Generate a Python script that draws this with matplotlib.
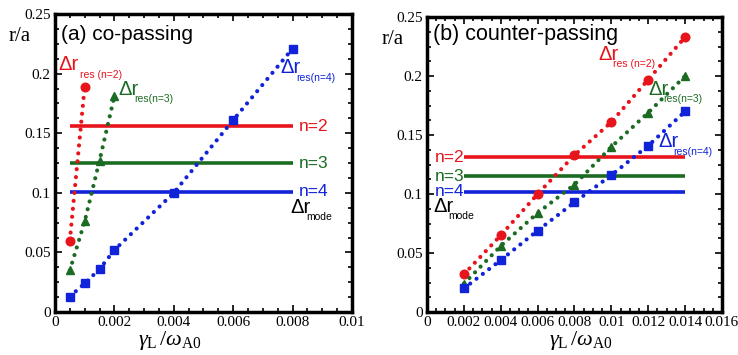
import matplotlib
matplotlib.use("Agg")
import matplotlib.pyplot as plt
from matplotlib.ticker import MultipleLocator

# (a) co-passing
co_x_n2 = [0.0005, 0.001]
co_y_n2 = [0.060, 0.189]
co_x_n3 = [0.0005, 0.001, 0.0015, 0.002]
co_y_n3 = [0.035, 0.076, 0.127, 0.181]
co_x_n4 = [0.0005, 0.001, 0.0015, 0.002, 0.004, 0.006, 0.008]
co_y_n4 = [0.013, 0.024, 0.036, 0.052, 0.100, 0.161, 0.221]
co_mode = [0.156, 0.125, 0.101]          # n=2, n=3, n=4
co_mode_x = [0.0005, 0.008]

# (b) counter-passing
ct_x = [0.002, 0.004, 0.006, 0.008, 0.010, 0.012, 0.014]
ct_y_n2 = [0.032, 0.065, 0.100, 0.133, 0.161, 0.197, 0.233]
ct_y_n3 = [0.024, 0.056, 0.084, 0.108, 0.140, 0.169, 0.200]
ct_y_n4 = [0.020, 0.044, 0.069, 0.093, 0.116, 0.141, 0.170]
ct_mode = [0.131, 0.115, 0.102]
ct_mode_x = [0.002, 0.014]

mode_labels = ["n=2", "n=3", "n=4"]

RED = "#e8141c"
GREEN = "#1c6b23"
BLUE = "#1023d8"
colors = [RED, GREEN, BLUE]

SERIF = "Liberation Serif"
SANS = "Liberation Sans"

plt.rcParams["mathtext.fontset"] = "custom"
plt.rcParams["mathtext.rm"] = SERIF
plt.rcParams["mathtext.it"] = SERIF + ":italic"

fig = plt.figure(figsize=(7.38, 3.55), dpi=100)
ax1 = fig.add_axes([0.0745, 0.121, 0.4024, 0.8395])
ax2 = fig.add_axes([0.5786, 0.121, 0.3997, 0.831])


def fmt(v, p):
    return "0" if v == 0 else f"{v:g}"


def style_axes(ax, xmax, xlab_x):
    ax.set_xlim(0, xmax)
    ax.set_ylim(0, 0.25)
    ax.xaxis.set_major_locator(MultipleLocator(0.002))
    ax.xaxis.set_minor_locator(MultipleLocator(0.0005))
    ax.yaxis.set_major_locator(MultipleLocator(0.05))
    ax.yaxis.set_minor_locator(MultipleLocator(0.0125))
    ax.tick_params(which="both", direction="in", top=True, right=True, width=1.2)
    ax.tick_params(which="major", length=5, labelsize=11, pad=3)
    ax.tick_params(which="minor", length=3)
    ax.xaxis.set_major_formatter(plt.FuncFormatter(fmt))
    ax.yaxis.set_major_formatter(plt.FuncFormatter(fmt))
    for lab in ax.get_xticklabels() + ax.get_yticklabels():
        lab.set_family(SERIF)
    for sp in ax.spines.values():
        sp.set_linewidth(2.5)
    ax.text(-0.155, 0.925, "r/a", transform=ax.transAxes, fontsize=15, family=SERIF,
            ha="left", va="center")
    ax.text(xlab_x, -0.112, r"$\gamma_{\mathrm{L}}\,/\omega_{\mathrm{A0}}$",
            transform=ax.transAxes, fontsize=16, ha="center", va="baseline")


def res_series(ax, xs, ys, c, m, ms):
    ax.plot(xs, ys, color=c, linestyle=(0, (0.01, 1.9)), linewidth=3.0,
            dash_capstyle="round", marker=m, markersize=ms, zorder=3)


def dr_label(ax, x, y, sx, sy, sub, c):
    ax.text(x, y, "\u0394r", color=c, fontsize=14.5, family=SANS, va="baseline")
    ax.text(sx, sy, sub, color=c, fontsize=7.5, family=SANS, va="baseline")


# panel (a)
style_axes(ax1, 0.01, 0.387)
for yv, c in zip(co_mode, colors):
    ax1.plot(co_mode_x, [yv, yv], color=c, linewidth=2.6, solid_capstyle="butt", zorder=2)
res_series(ax1, co_x_n2, co_y_n2, RED, "o", 6.2)
res_series(ax1, co_x_n3, co_y_n3, GREEN, "^", 6)
res_series(ax1, co_x_n4, co_y_n4, BLUE, "s", 5.5)
for yv, c, lab in zip(co_mode, colors, mode_labels):
    ax1.text(0.0082, yv, lab, color=c, fontsize=12.5, family=SANS, va="center")
ax1.text(0.0002, 0.233, "(a) co-passing", fontsize=15, family=SANS, va="center")
dr_label(ax1, 0.00013, 0.203, 0.00085, 0.196, "res (n=2)", RED)
dr_label(ax1, 0.00212, 0.182, 0.00268, 0.176, "res(n=3)", GREEN)
dr_label(ax1, 0.00758, 0.2005, 0.00812, 0.194, "res(n=4)", BLUE)
dr_label(ax1, 0.00791, 0.0833, 0.00845, 0.0772, "mode", "black")

# panel (b)
style_axes(ax2, 0.016, 0.52)
for yv, c in zip(ct_mode, colors):
    ax2.plot(ct_mode_x, [yv, yv], color=c, linewidth=2.6, solid_capstyle="butt", zorder=2)
res_series(ax2, ct_x, ct_y_n2, RED, "o", 6.2)
res_series(ax2, ct_x, ct_y_n3, GREEN, "^", 6)
res_series(ax2, ct_x, ct_y_n4, BLUE, "s", 5.5)
for yv, c, lab in zip(ct_mode, colors, mode_labels):
    ax2.text(0.00043, yv, lab, color=c, fontsize=12.5, family=SANS, va="center")
ax2.text(0.00035, 0.235, "(b) counter-passing", fontsize=15.5, family=SANS, va="center")
dr_label(ax2, 0.00927, 0.2140, 0.01009, 0.2077, "res (n=2)", RED)
dr_label(ax2, 0.01199, 0.184, 0.01281, 0.178, "res(n=3)", GREEN)
dr_label(ax2, 0.01253, 0.1398, 0.01335, 0.133, "res(n=4)", BLUE)
dr_label(ax2, 0.00033, 0.0846, 0.00115, 0.0787, "mode", "black")

fig.savefig("out.png", dpi=100)
